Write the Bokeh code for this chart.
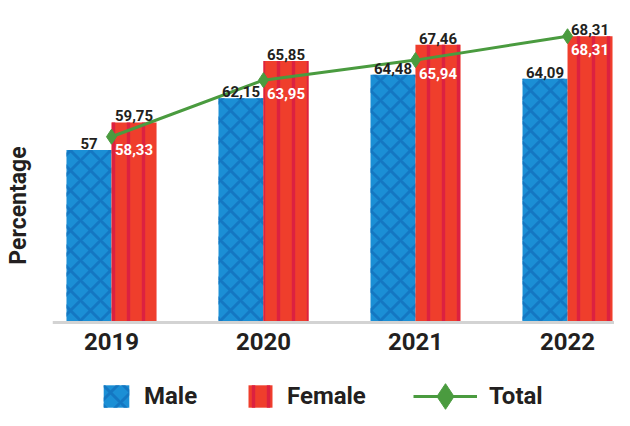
from bokeh.plotting import figure
from bokeh.models import Range1d, Legend, LegendItem, ColumnDataSource, Span
from bokeh.embed import file_html
from bokeh.resources import INLINE
from bokeh.core.properties import value

# ---- data ----
years = ["2019", "2020", "2021", "2022"]
male = [57, 62.15, 64.48, 64.09]
female = [59.75, 65.85, 67.46, 68.31]
total = [58.33, 63.95, 65.94, 68.31]


def fmt(v):
    return f"{v:.2f}".rstrip("0").rstrip(".").replace(".", ",")


BASE = 39.88      # value where the category axis line sits
Y_TOP = 71.86
Y_BOTTOM = 31.14  # room below the axis for tick labels and legend

idx = list(range(len(years)))
bar_w = 0.296
off = bar_w / 2

src_m = ColumnDataSource(dict(x=[i - off for i in idx], top=male, lab=[fmt(v) for v in male]))
src_f = ColumnDataSource(dict(x=[i + off for i in idx], top=female, lab=[fmt(v) for v in female]))
src_t = ColumnDataSource(dict(x=idx, y=total, lab=[fmt(v) for v in total], xf=[i + off for i in idx]))
src_y = ColumnDataSource(dict(x=idx, y=[BASE] * len(idx), lab=years))

FONT = "Roboto"
DARK = "#231f20"

p = figure(width=614, height=410, x_range=Range1d(-0.388, 3.309), y_range=Range1d(Y_BOTTOM, Y_TOP),
           output_backend="svg", toolbar_location=None,
           min_border_left=52, min_border_right=0, min_border_top=0, min_border_bottom=0)
p.outline_line_color = None
p.xgrid.visible = False
p.ygrid.visible = False
p.xaxis.visible = False
p.background_fill_color = "white"
p.border_fill_color = "white"

ya = p.yaxis[0]
ya.axis_line_color = None
ya.major_tick_line_color = None
ya.minor_tick_line_color = None
ya.major_label_text_font_size = "0px"
ya.major_label_text_alpha = 0
ya.axis_label = "Percentage"
ya.axis_label_text_font = FONT
ya.axis_label_text_font_size = "23px"
ya.axis_label_text_font_style = "bold"
ya.axis_label_text_color = DARK
ya.axis_label_standoff = 15

rm = p.vbar(x="x", top="top", bottom=BASE, width=bar_w, source=src_m, fill_color="#1b8fd5", line_color=None,
            hatch_pattern="diagonal_cross", hatch_color="#1477c2", hatch_scale=20, hatch_weight=3)
rf = p.vbar(x="x", top="top", bottom=BASE, width=bar_w, source=src_f, fill_color="#ef3e2c", line_color=None,
            hatch_pattern="vertical_line", hatch_color="#dc2140", hatch_scale=15, hatch_weight=3.5)

p.add_layout(Span(location=BASE, dimension="width", line_color="#d3d3d3", line_width=3))

rl = p.line(x="x", y="y", source=src_t, line_color="#4a9b3f", line_width=3)
rs = p.scatter(x="x", y="y", source=src_t, marker="diamond", size=15, fill_color="#4a9b3f", line_color="#4a9b3f")

lab_kw = dict(text_font=value(FONT), text_font_size="15px", text_font_style="bold", text_align="center")
p.text(x="x", y="top", text="lab", source=src_m, text_color=DARK, text_baseline="bottom", y_offset=-1, **lab_kw)
p.text(x="x", y="top", text="lab", source=src_f, text_color=DARK, text_baseline="bottom", y_offset=-1, **lab_kw)
p.text(x="xf", y="y", text="lab", source=src_t, text_color="white", text_baseline="middle", y_offset=13, **lab_kw)

# category labels under the axis line
p.text(x="x", y="y", text="lab", source=src_y, text_color=DARK, text_baseline="top", y_offset=11,
       text_font=value(FONT), text_font_size="24px", text_font_style="bold", text_align="center")

leg_common = dict(orientation="horizontal", label_text_font_size="24px", label_text_font=FONT,
                  label_text_font_style="bold",
                  label_text_color=DARK, padding=0, margin=0, border_line_color=None,
                  background_fill_alpha=0, label_standoff=12, spacing=0)
leg_m = Legend(items=[LegendItem(label="Male", renderers=[rm])], location=(48, 0),
               glyph_width=32, glyph_height=28, **leg_common)
leg_f = Legend(items=[LegendItem(label="Female", renderers=[rf])], location=(193, 0),
               glyph_width=30, glyph_height=28, **leg_common)
leg_t = Legend(items=[LegendItem(label="Total", renderers=[rl, rs])], location=(361, -21),
               glyph_width=64, glyph_height=70, **leg_common)
for lg in (leg_m, leg_f, leg_t):
    p.add_layout(lg)

open("out.html", "w").write(file_html(p, INLINE))
